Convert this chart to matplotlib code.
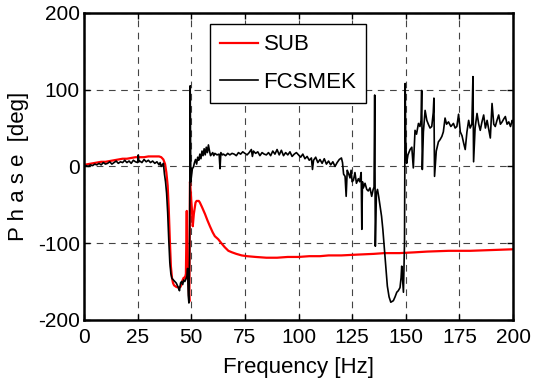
import matplotlib
matplotlib.use('Agg')
import matplotlib.pyplot as plt

plt.rcParams['axes.unicode_minus'] = False

# SUB (red) phase response
sub_f = [0, 2, 4, 6, 8, 10, 12, 14, 16, 18, 20, 22, 24, 26, 28, 30, 32, 34, 35, 36, 37, 37.8, 38.4,
         39, 39.5, 40, 40.5, 41, 41.5, 42, 43, 44, 45, 45.5, 46, 46.5, 47, 47.5, 47.9, 48.2, 48.6,
         49.1, 49.4, 50.3, 50.7, 51.2, 52, 52.5, 53.5, 54, 55, 56.4, 57.5, 58.7, 60, 61, 62.6, 64,
         65.5, 67.3, 69, 71, 73.5, 76, 80, 85, 90, 95, 100, 105, 110, 114, 120, 127, 135, 140, 147,
         154, 160, 170, 180, 190, 200]
sub_p = [2, 3, 4, 5, 6, 6, 7, 8, 9, 10, 10, 11, 12, 12, 12, 13, 13, 13, 13, 12, 9, 3, -8,
         -25, -55, -95, -130, -145, -152, -155, -157, -158, -157, -153, -148, -145, -146, -140, -58, -135, -150,
         -176, -20, -56, -78, -62, -47, -45, -45, -47, -53, -62, -70, -78, -86, -91, -95, -100,
         -105, -110, -112, -114, -116, -117, -118, -119, -119, -118, -118, -117, -117, -116, -116, -115, -114, -113, -113,
         -112, -111, -110, -110, -109, -108]

# FCSMEK (black) phase response
fc_f = [0, 1, 2, 3, 4, 5, 6, 7, 8, 9, 10, 11, 12, 13, 14, 15, 16, 17, 18, 19, 20, 21, 22, 23, 24, 25,
        25.3, 25.6, 26, 27, 28, 29, 30, 31, 32, 33, 34, 35, 35.5, 36, 37, 37.5, 38, 38.5, 39, 39.5,
        40, 40.5, 41, 42, 43, 44, 44.5, 45, 45.5, 46, 46.5, 47, 47.5, 48, 48.3, 48.6, 48.9, 49.2,
        49.5, 49.8, 50.5, 51, 51.5, 52, 52.5, 53, 53.5, 54, 54.5, 55, 55.5, 56, 56.5, 57, 57.5, 58,
        58.5, 59, 60, 60.5, 61, 62, 63, 63.4, 63.8, 64.5, 65, 66, 67, 68, 69, 70, 71, 72, 73, 74,
        75, 76, 77, 78, 78.5, 79, 80, 81, 82, 83, 84, 85, 86, 87, 88, 89, 90, 91, 92, 93, 94, 95,
        96, 97, 98, 99, 100, 101, 102, 103, 104, 105, 106, 106.5, 107, 108, 109, 110, 111, 112,
        113, 114, 115, 116, 117, 118, 119, 120, 120.5, 121, 121.7, 122.2, 122.7, 123.3, 124,
        124.5, 125, 125.6, 126.3, 127, 127.9, 128.5, 129.2, 129.5, 129.8, 130.2, 131, 131.8,
        132.5, 133.3, 134.1, 134.8, 135.2, 135.5, 135.8, 136.3, 136.8, 137.4, 138, 138.7, 139.3,
        140.3, 141.4, 142.2, 143, 144.2, 145, 145.8, 146.5, 147.3, 147.8, 148.1, 148.6, 148.9,
        149.4, 149.7, 150, 150.4, 151, 152, 152.8, 153.5, 154.3, 155, 155.9, 156.6, 157.1, 157.4,
        157.7, 158.2, 159, 159.8, 160.5, 161.3, 162.1, 162.8, 163.1, 163.4, 164.2, 165.2, 166,
        166.8, 167.5, 168.3, 169, 169.9, 171, 172.2, 173, 173.8, 174.6, 175.4, 176.2, 177, 177.7,
        178.5, 179.3, 180, 180.8, 181.3, 181.6, 182.3, 183.2, 184, 184.7, 185.5, 186.3, 187.1,
        187.9, 188.7, 189.4, 190.2, 191, 191.7, 192.5, 193.3, 194.1, 194.9, 195.7, 196.4, 197.2,
        198, 198.8, 199.6, 200]
fc_p = [0, 1, 0, 2, 1, 3, 2, 4, 2, 5, 3, 4, 6, 3, 5, 7, 4, 6, 5, 8, 5, 7, 4, 8, 6, 5,
        15, 6, 7, 5, 9, 6, 8, 5, 7, 4, 6, 2, 5, 0, 4, -10, -20, -35, -60, -95,
        -125, -140, -146, -149, -152, -158, -162, -152, -150, -154, -148, -150, -147, -143, -133, -168, -178, -120,
        105, -20, -3, -1, 5, 9, 3, 12, 8, 16, 10, 20, 14, 23, 15, 25, 18, 28,
        20, 14, 18, 14, 17, 15, 16, -3, 18, 15, 16, 14, 17, 15, 17, 16, 14, 18, 16, 19,
        17, 15, 18, 22, 13, 20, 17, 19, 14, 18, 16, 15, 18, 14, 20, 16, 22, 15, 21, 14, 18, 15,
        19, 13, 16, 18, 15, 12, 16, 10, 13, 8, 11, -4, 8, 12, 5, 9, 4, 10,
        3, 7, 2, 6, 0, 5, 9, 11, 5, -10, -13, -39, -5, -9, -15,
        -5, -20, -18, -8, -22, -16, -20, -8, -82, -20, -28, -22, -30,
        -32, -28, -39, -30, -27, 93, -104, -35, -30, -40, -52, -65, -82,
        -117, -156, -170, -177, -175, -170, -164, -162, -158, -145, -130, -150, -164,
        -100, 108, 30, 4, 15, 22, 25, -2, 47, 42, 56, 52, 60, 99,
        -4, 45, 73, 60, 55, 50, 52, 70, 89, -13, 20, 32, 35,
        39, 45, 63, 55, 58, 52, 56, 50, 52, 68, 45, 40, 30, 22,
        45, 60, 50, 55, 117, 6, 50, 69, 55, 47, 58, 67, 50,
        60, 48, 37, 82, 55, 52, 60, 67, 55, 58, 62, 65, 55,
        58, 52, 60, 57]

x_ticks = [0, 25, 50, 75, 100, 125, 150, 175, 200]
y_ticks = [-200, -100, 0, 100, 200]

font = ['Liberation Sans', 'DejaVu Sans']

fig = plt.figure(figsize=(5.35, 3.92), dpi=100)
ax = fig.add_axes([0.157, 0.184, 0.802, 0.783])

ax.plot(sub_f, sub_p, color='#ff0000', lw=1.6, label='SUB')
ax.plot(fc_f, fc_p, color='black', lw=1.2, label='FCSMEK')

ax.set_xlim(0, 200)
ax.set_ylim(-200, 200)
ax.set_xticks(x_ticks)
ax.set_yticks(y_ticks)
ax.grid(True, color='#444444', linestyle=(0, (6, 5)), linewidth=0.8)
ax.tick_params(direction='in', length=4, width=1, top=True, right=True)
ax.tick_params(axis='x', pad=6)
ax.tick_params(axis='y', pad=3)
for lbl in ax.get_xticklabels() + ax.get_yticklabels():
    lbl.set_family(font)
    lbl.set_fontsize(15)
for sp in ax.spines.values():
    sp.set_linewidth(1.8)

ax.set_xlabel('Frequency [Hz]', family=font, fontsize=16, labelpad=7)
ax.set_ylabel('P h a s e  [deg]', family=font, fontsize=16, labelpad=6)

leg = ax.legend(loc='upper left', bbox_to_anchor=(0.294, 0.963), prop={'family': font, 'size': 16},
                fancybox=False, edgecolor='black', framealpha=1, handlelength=1.7,
                borderpad=0.45, labelspacing=0.75, handletextpad=0.25, borderaxespad=0)
leg.get_frame().set_linewidth(1.0)

fig.savefig('out.png', dpi=100)
